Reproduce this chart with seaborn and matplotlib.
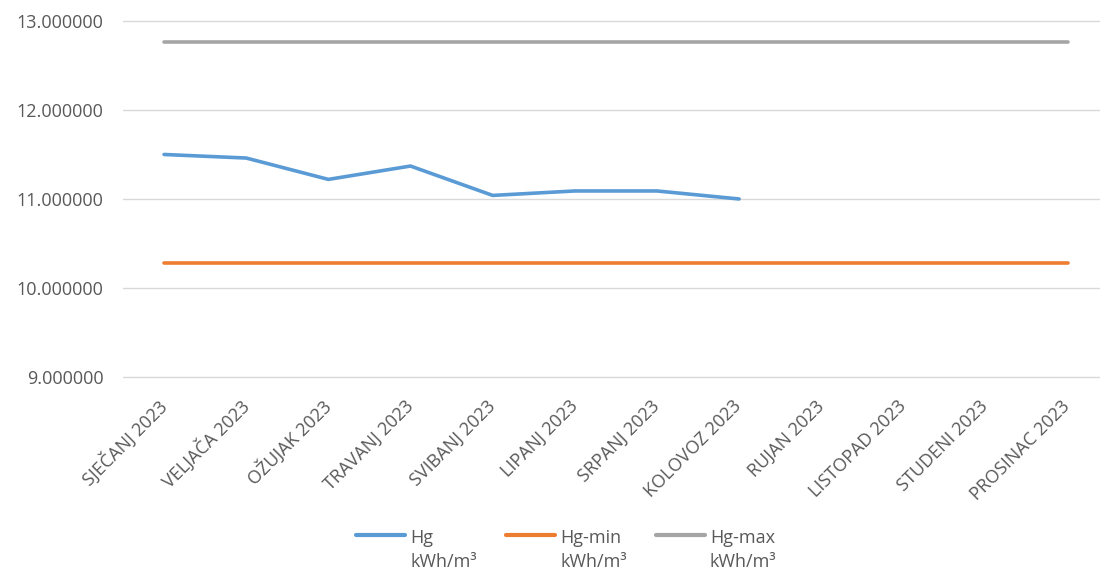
import numpy as np
import pandas as pd
import matplotlib
matplotlib.use('Agg')
import matplotlib.pyplot as plt
import seaborn as sns

# data
months = ['SJEČANJ 2023', 'VELJAČA 2023', 'OŽUJAK 2023', 'TRAVANJ 2023',
          'SVIBANJ 2023', 'LIPANJ 2023', 'SRPANJ 2023', 'KOLOVOZ 2023',
          'RUJAN 2023', 'LISTOPAD 2023', 'STUDENI 2023', 'PROSINAC 2023']
hg = [11.50, 11.46, 11.22, 11.37, 11.04, 11.09, 11.09, 11.00,
      np.nan, np.nan, np.nan, np.nan]
hg_min = [10.28] * 12
hg_max = [12.76] * 12
series_names = ['Hg\nkWh/m³', 'Hg-min\nkWh/m³', 'Hg-max\nkWh/m³']
colors = ['#5B9BD5', '#ED7D31', '#A5A5A5']
y_ticks = [9, 10, 11, 12, 13]

df = pd.DataFrame({
    'month': months * 3,
    'value': hg + hg_min + hg_max,
    'series': [series_names[0]] * 12 + [series_names[1]] * 12 + [series_names[2]] * 12,
})
df = df.dropna()

sns.set_style('white')
plt.rcParams['font.family'] = ['Open Sans', 'DejaVu Sans']

fig = plt.figure(figsize=(11, 5.78), dpi=100)
ax = fig.add_axes([0.1118, 0.3478, 0.8962, 0.6159])

sns.lineplot(data=df, x='month', y='value', hue='series', palette=colors,
             hue_order=series_names, estimator=None, sort=False,
             linewidth=2.6, ax=ax, legend=True)

ax.set_xlim(-0.5, 11.5)
ax.set_ylim(9, 13)
ax.set_yticks(y_ticks)
ax.set_yticklabels([f'{v:.6f}' for v in y_ticks])
ax.set_xticks(range(len(months)))
ax.set_xticklabels(months, rotation=45, ha='right', va='center',
                   rotation_mode='anchor')
ax.set_xlabel('')
ax.set_ylabel('')
ax.grid(axis='y', color='#D9D9D9', linewidth=1)
ax.set_axisbelow(True)
for gl in ax.get_ygridlines():
    gl.set_clip_on(False)
for s in ax.spines.values():
    s.set_visible(False)
ax.tick_params(axis='both', length=0, labelsize=13, labelcolor='#595959')
ax.tick_params(axis='y', pad=14)
ax.tick_params(axis='x', pad=19)
for line in ax.get_lines():
    line.set_solid_capstyle('round')

handles, labels = ax.get_legend_handles_labels()
ax.get_legend().remove()
leg = fig.legend(handles, labels, loc='center', bbox_to_anchor=(0.515, 0.048),
                 ncol=3, frameon=False, fontsize=13, handlelength=2.7,
                 handletextpad=0.3, columnspacing=1.6, labelcolor='#595959')
for h in leg.legend_handles:
    h.set_linewidth(3)
for t in leg.get_texts():
    t.set_linespacing(1.45)
# put the handle next to the first line of each label
for col in leg._legend_handle_box.get_children():
    for item in col.get_children():
        item.align = 'top'

fig.savefig('out.png', dpi=100)
